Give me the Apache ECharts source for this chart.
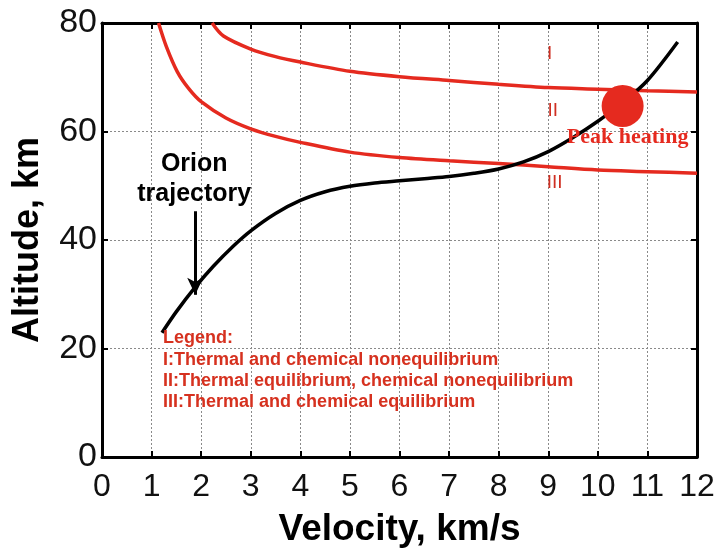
<!DOCTYPE html>
<html>
<head>
<meta charset="utf-8">
<script src="https://cdn.jsdelivr.net/npm/echarts@6/dist/echarts.min.js"></script>
<style>
html,body{margin:0;padding:0;background:#fff;}
#chart{width:720px;height:553px;}
</style>
</head>
<body>
<div id="chart"></div>
<script>
// ---- data ----
const regionIx = [2.22, 2.45, 3.0, 3.5, 4.0, 5.0, 6.0, 7.0, 8.0, 9.0, 10.0, 11.0, 12.0];
const regionIy = [80, 77.6, 75.2, 73.8, 72.8, 71.1, 70.1, 69.4, 68.7, 68.1, 67.8, 67.5, 67.3];

const regionIIx = [1.14, 1.3, 1.52, 1.75, 2.0, 2.5, 3.0, 3.5, 4.0, 5.0, 6.0, 7.0, 8.0, 9.0, 10.0, 11.0, 12.0];
const regionIIy = [80, 75.6, 71.0, 67.9, 65.5, 62.5, 60.5, 59.1, 58.0, 56.2, 55.2, 54.6, 54.1, 53.5, 52.9, 52.6, 52.3];

const trajX = [1.21, 1.5, 1.88, 2.25, 2.65, 3.0, 3.5, 4.0, 4.5, 5.0, 5.5, 6.0, 6.5, 7.0, 7.5, 8.0, 8.5, 9.0, 9.5, 10.0, 10.5, 11.0, 11.61];
const trajY = [22.9, 26.8, 31.3, 35.2, 38.9, 41.7, 44.9, 47.3, 48.9, 49.9, 50.5, 50.9, 51.3, 51.7, 52.3, 53.1, 54.4, 56.3, 58.9, 61.9, 65.3, 69.4, 76.5];

const peakHeating = [10.5, 64.7];

const xTicks = {min: 0, max: 12, interval: 1};
const yTicks = {min: 0, max: 80, interval: 20};

const regionLabels = ['I', 'II', 'III'];
const legendLines = [
  'Legend:',
  'I:Thermal and chemical nonequilibrium',
  'II:Thermal equilibrium, chemical nonequilibrium',
  'III:Thermal and chemical equilibrium'
];

// annotation anchor positions (data coordinates)
const regionLabelPos = [[9.03, 74.4], [9.09, 63.8], [9.13, 50.5]];
const legendPos = [[1.232, 22.0], [1.232, 17.87], [1.232, 14.0], [1.232, 10.05]];
const orionPos = [1.86, 51.2];
const peakLabelPos = [10.6, 58.9];
const arrowFrom = [1.88, 45.3];
const arrowTo = [1.88, 29.9];

const zip = (xs, ys) => xs.map((x, i) => [x, ys[i]]);

const RED = '#e52a1f';
const TXT_RED = '#d6311f';
const FONT = '"Liberation Sans", Arial, Helvetica, sans-serif';

const chart = echarts.init(document.getElementById('chart'), null, {renderer: 'canvas'});

const gridLine = {show: true, lineStyle: {color: '#8a8a8a', type: [2, 2], width: 1}};
const frameLine = {show: true, onZero: false, lineStyle: {color: '#000', width: 3}};
const inTick = {show: true, inside: true, length: 6, lineStyle: {color: '#000', width: 2}};

const option = {
  animation: false,
  backgroundColor: '#fff',
  grid: {left: 102, right: 23, top: 23, bottom: 92, containLabel: false},
  xAxis: [
    {
      type: 'value', position: 'bottom', min: xTicks.min, max: xTicks.max, interval: xTicks.interval,
      name: 'Velocity, km/s', nameLocation: 'middle', nameGap: 54,
      nameTextStyle: {fontFamily: FONT, fontWeight: 'bold', fontSize: 37, color: '#000'},
      axisLine: frameLine, axisTick: inTick,
      axisLabel: {fontFamily: FONT, fontSize: 32, color: '#111', margin: 14},
      splitLine: gridLine
    },
    {
      type: 'value', position: 'top', min: xTicks.min, max: xTicks.max, interval: xTicks.interval,
      axisLine: frameLine, axisTick: inTick,
      axisLabel: {show: false}, splitLine: {show: false}
    }
  ],
  yAxis: [
    {
      type: 'value', position: 'left', min: yTicks.min, max: yTicks.max, interval: yTicks.interval,
      name: 'Altitude, km', nameLocation: 'middle', nameGap: 56,
      nameTextStyle: {fontFamily: FONT, fontWeight: 'bold', fontSize: 36, color: '#000'},
      axisLine: frameLine, axisTick: inTick,
      axisLabel: {fontFamily: FONT, fontSize: 34, color: '#111', margin: 5},
      splitLine: gridLine
    },
    {
      type: 'value', position: 'right', min: yTicks.min, max: yTicks.max, interval: yTicks.interval,
      axisLine: frameLine, axisTick: inTick,
      axisLabel: {show: false}, splitLine: {show: false}
    }
  ],
  series: [
    {
      name: 'I', type: 'line', data: zip(regionIx, regionIy), smooth: 0.3, showSymbol: false,
      lineStyle: {color: RED, width: 3.5}, z: 3
    },
    {
      name: 'II', type: 'line', data: zip(regionIIx, regionIIy), smooth: 0.3, showSymbol: false,
      lineStyle: {color: RED, width: 3.5}, z: 3
    },
    {
      name: 'Orion trajectory', type: 'line', data: zip(trajX, trajY), smooth: 0.3, showSymbol: false,
      lineStyle: {color: '#000', width: 3.5}, z: 4,
      markLine: {
        silent: true, symbol: ['none', 'arrow'], symbolSize: [12, 17],
        label: {show: false},
        lineStyle: {color: '#000', width: 3, type: 'solid'},
        data: [[{coord: arrowFrom}, {coord: arrowTo}]]
      }
    },
    {
      name: 'Peak heating', type: 'scatter', data: [peakHeating], symbol: 'circle', symbolSize: 42,
      itemStyle: {color: RED, opacity: 1}, z: 6
    },
    {
      name: 'annotations', type: 'scatter', symbolSize: 0, z: 7, silent: true,
      itemStyle: {opacity: 1},
      data: [
        ...regionLabels.map((t, i) => ({
          value: regionLabelPos[i], name: t,
          label: {show: true, position: 'inside', formatter: '{b}', fontFamily: FONT, fontSize: 19, color: '#cf2f22'}
        })),
        {
          value: peakLabelPos, name: 'Peak heating',
          label: {show: true, position: 'inside', formatter: '{b}', fontFamily: '"Liberation Serif", "Times New Roman", serif',
                  fontWeight: 'bold', fontSize: 22, color: RED}
        },
        {
          value: orionPos, name: 'Orion\ntrajectory',
          label: {show: true, position: 'inside', formatter: '{b}', fontFamily: FONT, fontWeight: 'bold',
                  fontSize: 25, lineHeight: 30, color: '#000', align: 'center'}
        },
        ...legendLines.map((t, i) => ({
          value: legendPos[i], name: t,
          label: {show: true, position: 'inside', formatter: '{b}', align: 'left', verticalAlign: 'middle',
                  fontFamily: FONT, fontWeight: 'bold', fontSize: 18, color: TXT_RED}
        }))
      ]
    }
  ]
};
chart.setOption(option);
</script>
</body>
</html>
